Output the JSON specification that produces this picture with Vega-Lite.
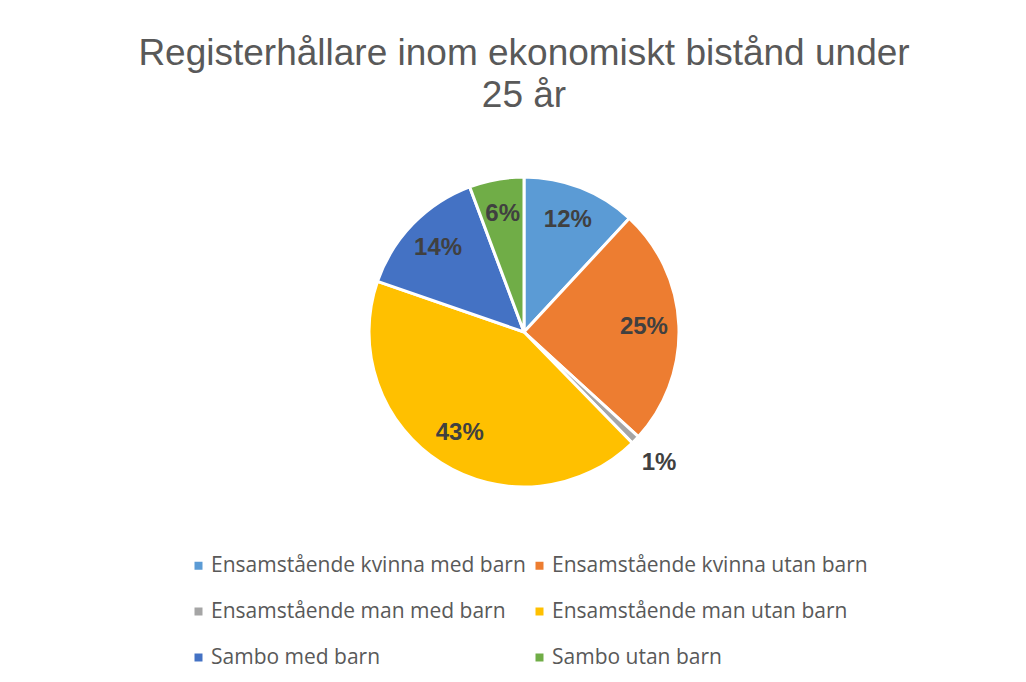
{
  "$schema": "https://vega.github.io/schema/vega-lite/v6.json",
  "autosize": "none",
  "width": 1004,
  "height": 418,
  "padding": {"left": 22, "top": 123, "right": 0, "bottom": 141},
  "background": "white",
  "config": {"view": {"stroke": null}},
  "title": {
    "text": ["Registerhållare inom ekonomiskt bistånd under", "25 år"],
    "font": "Liberation Sans",
    "fontSize": 37,
    "fontWeight": "normal",
    "color": "#595959",
    "lineHeight": 42,
    "anchor": "middle",
    "offset": 8
  },
  "data": {
    "values": [
      {"kategori": "Ensamstående kvinna med barn", "andel": 0.119},
      {"kategori": "Ensamstående kvinna utan barn", "andel": 0.249},
      {"kategori": "Ensamstående man med barn", "andel": 0.009},
      {"kategori": "Ensamstående man utan barn", "andel": 0.426},
      {"kategori": "Sambo med barn", "andel": 0.140},
      {"kategori": "Sambo utan barn", "andel": 0.057}
    ]
  },
  "encoding": {
    "theta": {"field": "andel", "type": "quantitative", "stack": true},
    "order": {"field": "kategori", "type": "nominal"}
  },
  "layer": [
    {
      "mark": {"type": "arc", "outerRadius": 155, "stroke": "white", "strokeWidth": 3},
      "encoding": {
        "color": {
          "field": "kategori",
          "type": "nominal",
          "scale": {
            "domain": ["Ensamstående kvinna med barn", "Ensamstående kvinna utan barn", "Ensamstående man med barn", "Ensamstående man utan barn", "Sambo med barn", "Sambo utan barn"],
            "range": ["#5B9BD5", "#ED7D31", "#A5A5A5", "#FFC000", "#4472C4", "#70AD47"]
          },
          "legend": {
            "title": null,
            "orient": "none",
            "legendX": 166,
            "legendY": 432,
            "columns": 2,
            "direction": "horizontal",
            "symbolType": "square",
            "symbolSize": 64,
            "symbolStrokeWidth": 0,
            "labelFont": "Open Sans",
            "labelFontSize": 21,
            "labelColor": "#595959",
            "labelOffset": 2,
            "labelLimit": 500,
            "rowPadding": 24,
            "columnPadding": 3,
            "padding": 0
          }
        }
      }
    },
    {
      "mark": {"type": "text", "radius": 120, "font": "Liberation Sans", "fontSize": 24, "fontWeight": "bold", "color": "#404040"},
      "encoding": {
        "text": {
          "condition": {"test": "datum.andel >= 0.02", "field": "andel", "type": "quantitative", "format": ".0%"},
          "value": ""
        }
      }
    },
    {
      "mark": {"type": "text", "radius": 188, "font": "Liberation Sans", "fontSize": 24, "fontWeight": "bold", "color": "#404040"},
      "encoding": {
        "text": {
          "condition": {"test": "datum.andel < 0.02", "field": "andel", "type": "quantitative", "format": ".0%"},
          "value": ""
        }
      }
    }
  ]
}
